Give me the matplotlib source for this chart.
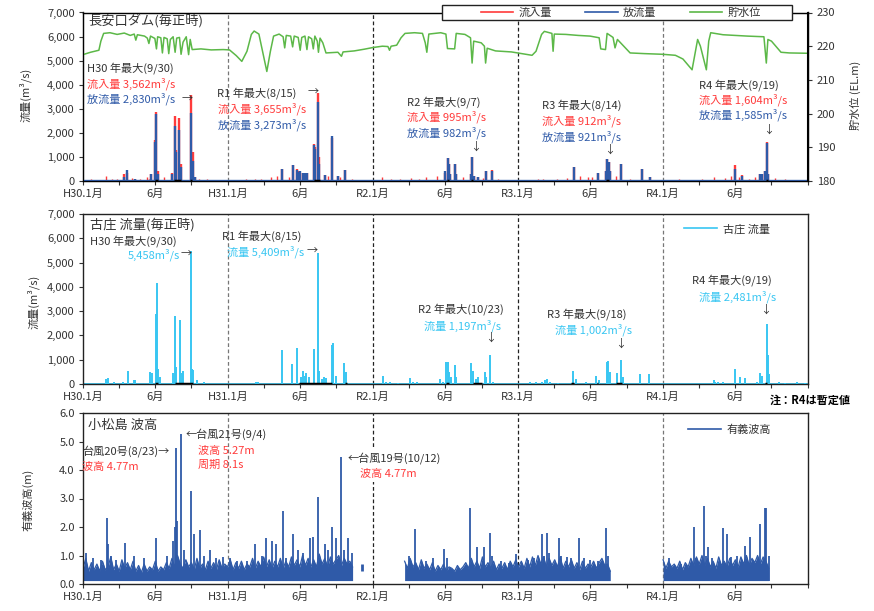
import matplotlib
matplotlib.use('Agg')
import matplotlib.pyplot as plt
from matplotlib.lines import Line2D
from matplotlib.patches import Rectangle
import pandas as pd

plt.rcParams['font.family'] = ['Noto Sans CJK JP', 'DejaVu Sans']

# ---------------- data ----------------
X_START = '2018-01-01'
X_END = '2023-01-01'
YEAR_LINES = ['2019-01-01', '2020-01-01', '2021-01-01', '2022-01-01']
XTICK_DATES = ['2018-01-01', '2018-07-01', '2019-01-01', '2019-07-01', '2020-01-01',
               '2020-07-01', '2021-01-01', '2021-07-01', '2022-01-01', '2022-07-01']
XTICK_LABELS = ['H30.1月', '6月', 'H31.1月', '6月', 'R2.1月', '6月', 'R3.1月', '6月', 'R4.1月', '6月']
XMINOR_DATES = ['2018-04-01', '2018-10-01', '2019-04-01', '2019-10-01', '2020-04-01', '2020-10-01',
                '2021-04-01', '2021-10-01', '2022-04-01', '2022-10-01', '2023-01-01']

# 長安口ダム 貯水位 (EL.m)
LEVEL_DATES = ['2018-01-01', '2018-01-20', '2018-02-10', '2018-02-15', '2018-02-22', '2018-03-10',
               '2018-03-28', '2018-04-15', '2018-04-30', '2018-05-10', '2018-05-14', '2018-05-18',
               '2018-06-05', '2018-06-12', '2018-06-16', '2018-06-20', '2018-07-01', '2018-07-05',
               '2018-07-08', '2018-07-16', '2018-07-20', '2018-07-24', '2018-08-01', '2018-08-05',
               '2018-08-09', '2018-08-16', '2018-08-21', '2018-08-25', '2018-09-01', '2018-09-05',
               '2018-09-10', '2018-09-18', '2018-09-24', '2018-09-28', '2018-10-03', '2018-10-25',
               '2018-11-20', '2018-12-20', '2019-01-05', '2019-01-22', '2019-02-05', '2019-02-18',
               '2019-03-01', '2019-03-08', '2019-03-20', '2019-03-30', '2019-04-09', '2019-04-18',
               '2019-04-26', '2019-05-10', '2019-05-20', '2019-05-24', '2019-05-28', '2019-06-08',
               '2019-06-13', '2019-06-17', '2019-06-27', '2019-07-02', '2019-07-06', '2019-07-14',
               '2019-07-19', '2019-07-23', '2019-07-31', '2019-08-04', '2019-08-08', '2019-08-14',
               '2019-08-17', '2019-08-21', '2019-08-28', '2019-09-05', '2019-09-20', '2019-10-05',
               '2019-10-14', '2019-10-18', '2019-11-15', '2019-12-10', '2020-01-01', '2020-01-25',
               '2020-02-08', '2020-02-12', '2020-02-16', '2020-03-01', '2020-03-12', '2020-03-22',
               '2020-04-15', '2020-05-05', '2020-05-12', '2020-05-16', '2020-05-21', '2020-06-20',
               '2020-07-03', '2020-07-07', '2020-07-25', '2020-07-29', '2020-08-20', '2020-09-03',
               '2020-09-07', '2020-09-11', '2020-09-30', '2020-10-08', '2020-10-11', '2020-10-15',
               '2020-11-05', '2020-12-15', '2021-01-10', '2021-02-05', '2021-02-15', '2021-03-01',
               '2021-03-08', '2021-03-27', '2021-03-30', '2021-04-02', '2021-05-01', '2021-06-01',
               '2021-07-01', '2021-07-24', '2021-07-28', '2021-08-09', '2021-08-13', '2021-08-28',
               '2021-09-02', '2021-09-08', '2021-09-20', '2021-10-10', '2021-11-15', '2021-12-31',
               '2022-02-01', '2022-02-20', '2022-03-15', '2022-03-29', '2022-04-05', '2022-04-20',
               '2022-04-26', '2022-05-01', '2022-06-01', '2022-07-01', '2022-08-01', '2022-09-12',
               '2022-09-18', '2022-09-22', '2022-10-01', '2022-10-25', '2022-11-15', '2022-12-31']
LEVEL_VALUES = [217.5, 218.2, 218.8, 221.5, 223.8, 224.0,
                223.5, 223.9, 223.2, 223.6, 221.8, 223.4,
                223.0, 222.4, 220.8, 223.0, 222.3, 219.2,
                222.8, 222.5, 218.0, 222.6, 222.2, 217.8,
                222.0, 222.8, 218.2, 222.4, 222.6, 217.6,
                221.2, 222.8, 217.5, 222.0, 219.0, 219.2,
                218.9, 219.0, 218.9, 217.2, 215.5, 218.5,
                223.5, 224.5, 223.6, 218.0, 212.5, 218.5,
                223.0, 223.6, 222.8, 219.5, 223.2, 223.0,
                219.8, 223.0, 222.6, 218.8, 222.6, 223.0,
                219.0, 222.8, 222.2, 219.2, 223.0, 221.5,
                218.2, 222.4, 221.0, 218.0, 218.1, 218.2,
                217.0, 218.3, 218.6, 219.1, 219.6, 220.0,
                219.9, 218.8, 220.0, 220.3, 222.5, 223.8,
                224.0, 223.8, 221.0, 218.2, 223.6, 224.0,
                223.6, 219.3, 219.2, 223.8, 223.5, 222.5,
                215.0, 221.5, 221.0, 220.0, 215.0, 219.4,
                218.6, 218.3, 217.8, 217.3, 218.5, 223.5,
                224.4, 223.8, 218.5, 223.6, 223.5, 223.2,
                223.0, 222.5, 219.2, 219.0, 223.8, 222.6,
                219.5, 222.0, 220.5, 218.0, 217.8, 217.6,
                217.3, 216.2, 213.0, 222.0, 220.0, 213.0,
                221.5, 224.0, 223.4, 223.2, 223.0, 222.8,
                215.0, 222.0, 221.5, 218.2, 218.0, 217.9]

# 長安口ダム 流入量 / 放流量 (m3/s) peaks
DAM_DATES = ['2018-04-15', '2018-04-23', '2018-05-13', '2018-06-21', '2018-07-01', '2018-07-05',
             '2018-07-09', '2018-08-14', '2018-08-20', '2018-08-23', '2018-09-01', '2018-09-03',
             '2018-09-05', '2018-09-30', '2018-10-05', '2018-10-10', '2019-05-18', '2019-06-15',
             '2019-06-25', '2019-06-28', '2019-07-01', '2019-07-10', '2019-07-14', '2019-07-20',
             '2019-08-06', '2019-08-09', '2019-08-15', '2019-08-18', '2019-09-02', '2019-09-21',
             '2019-10-04', '2019-10-24', '2020-06-30', '2020-07-08', '2020-07-11', '2020-07-14',
             '2020-07-25', '2020-07-28', '2020-09-05', '2020-09-07', '2020-09-12', '2020-09-23',
             '2020-10-12', '2020-10-26', '2021-05-22', '2021-07-20', '2021-08-10', '2021-08-14',
             '2021-08-17', '2021-08-20', '2021-09-16', '2021-11-10', '2021-11-30', '2022-07-01',
             '2022-07-18', '2022-09-03', '2022-09-06', '2022-09-15', '2022-09-19', '2022-09-22']
INFLOW = [300, 350, 100, 300, 1700, 2850,
          400, 350, 2700, 1300, 2600, 600,
          700, 3562, 1200, 150, 500, 650,
          500, 400, 350, 350, 350, 350,
          1550, 1400, 3655, 1000, 250, 1800,
          200, 450, 350, 950, 700, 300,
          700, 300, 300, 995, 200, 150,
          400, 450, 600, 350, 400, 912,
          800, 400, 700, 500, 150, 650,
          250, 300, 300, 400, 1604, 300]
OUTFLOW = [150, 450, 80, 300, 1600, 2780,
           300, 300, 2300, 1200, 2100, 400,
           600, 2830, 850, 150, 500, 680,
           450, 380, 400, 350, 350, 350,
           1500, 1350, 3273, 700, 250, 1850,
           200, 450, 400, 950, 700, 300,
           700, 300, 300, 982, 200, 150,
           400, 400, 600, 350, 400, 921,
           800, 400, 700, 500, 150, 480,
           200, 300, 300, 400, 1585, 300]
INFLOW_SMALL_DATES = ['2018-01-20', '2018-02-05', '2018-02-28', '2018-03-15', '2018-03-28', '2018-05-05',
                      '2018-05-25', '2018-06-10', '2018-06-15', '2018-07-25', '2018-10-20', '2018-11-10',
                      '2018-12-05', '2019-01-10', '2019-02-15', '2019-03-10', '2019-03-25', '2019-04-20',
                      '2019-05-05', '2019-06-05', '2019-09-10', '2019-10-10', '2019-11-10', '2019-12-10',
                      '2020-01-25', '2020-02-15', '2020-03-10', '2020-04-05', '2020-04-25', '2020-05-15',
                      '2020-06-10', '2020-08-15', '2020-10-05', '2020-11-10', '2020-12-05', '2021-01-20',
                      '2021-02-20', '2021-03-05', '2021-04-10', '2021-05-05', '2021-06-05', '2021-06-25',
                      '2021-07-05', '2021-09-05', '2021-10-10', '2021-12-10', '2022-01-20', '2022-02-10',
                      '2022-03-10', '2022-04-10', '2022-05-10', '2022-06-05', '2022-06-20', '2022-07-10',
                      '2022-08-05', '2022-08-20', '2022-10-10', '2022-11-05', '2022-12-01']
INFLOW_SMALL = [80, 60, 200, 100, 80, 120,
                90, 150, 100, 150, 100, 80,
                60, 60, 70, 100, 80, 150,
                200, 150, 200, 150, 80, 60,
                150, 80, 100, 120, 100, 150,
                200, 150, 120, 80, 60, 60,
                80, 100, 100, 120, 200, 150,
                150, 200, 100, 60, 60, 80,
                60, 100, 150, 120, 200, 150,
                100, 150, 120, 80, 60]
DAM_BASE = 20

# 古庄 流量 (m3/s) peaks
FURU_DATES = ['2018-02-27', '2018-03-06', '2018-03-20', '2018-04-13', '2018-04-24', '2018-05-09',
              '2018-05-13', '2018-06-20', '2018-06-24', '2018-07-03', '2018-07-06', '2018-07-10',
              '2018-07-14', '2018-08-16', '2018-08-20', '2018-08-23', '2018-09-03', '2018-09-07',
              '2018-09-09', '2018-09-30', '2018-10-03', '2018-10-06', '2018-10-15', '2018-11-01',
              '2019-03-13', '2019-03-17', '2019-05-18', '2019-06-12', '2019-06-25', '2019-07-03',
              '2019-07-10', '2019-07-14', '2019-07-17', '2019-07-23', '2019-08-05', '2019-08-15',
              '2019-08-19', '2019-08-25', '2019-09-01', '2019-09-05', '2019-09-19', '2019-09-23',
              '2019-10-01', '2019-10-20', '2019-10-26', '2020-01-26', '2020-02-03', '2020-02-12',
              '2020-03-05', '2020-04-03', '2020-04-11', '2020-04-20', '2020-06-18', '2020-06-26',
              '2020-07-04', '2020-07-08', '2020-07-12', '2020-07-16', '2020-07-25', '2020-07-29',
              '2020-09-05', '2020-09-09', '2020-09-16', '2020-09-23', '2020-10-09', '2020-10-13',
              '2020-10-23', '2020-10-30', '2021-01-30', '2021-02-15', '2021-03-03', '2021-03-10',
              '2021-03-14', '2021-03-22', '2021-04-12', '2021-05-18', '2021-05-26', '2021-06-20',
              '2021-07-16', '2021-07-24', '2021-08-12', '2021-08-16', '2021-08-20', '2021-09-08',
              '2021-09-18', '2021-09-23', '2021-11-04', '2021-11-27', '2022-05-08', '2022-05-12',
              '2022-05-20', '2022-06-01', '2022-07-01', '2022-07-14', '2022-07-27', '2022-08-25',
              '2022-09-03', '2022-09-07', '2022-09-19', '2022-09-21', '2022-09-26', '2022-10-20',
              '2022-11-05', '2022-12-05', '2022-12-25']
FURU_FLOW = [200, 250, 100, 100, 550, 150,
             150, 500, 450, 2900, 4150, 600,
             300, 450, 2800, 700, 2650, 450,
             550, 5458, 600, 580, 150, 80,
             100, 80, 1420, 820, 1480, 300,
             550, 350, 450, 300, 1430, 5409,
             550, 200, 300, 250, 1600, 1700,
             350, 850, 500, 350, 100, 80,
             60, 250, 100, 80, 200, 100,
             900, 900, 500, 300, 800, 300,
             850, 550, 200, 300, 500, 300,
             1197, 100, 80, 100, 80, 150,
             200, 100, 50, 550, 200, 100,
             350, 150, 900, 950, 500, 450,
             1002, 300, 400, 400, 150, 100,
             80, 80, 600, 300, 250, 100,
             450, 350, 2481, 1200, 400, 80,
             60, 80, 50]
FURU_BASE = 15

# black marks at 0 (both flow panels)
DAM_BLACK_START = ['2018-07-01', '2018-08-19', '2018-09-28', '2019-08-05', '2020-07-06', '2020-09-05',
                   '2021-08-11', '2022-09-17']
DAM_BLACK_END = ['2018-07-08', '2018-09-06', '2018-10-03', '2019-08-20', '2020-07-10', '2020-09-09',
                 '2021-08-18', '2022-09-21']
FURU_BLACK_START = ['2018-07-01', '2018-08-20', '2019-06-30', '2019-10-24', '2020-07-04', '2020-09-10',
                    '2021-05-15', '2021-07-18', '2021-09-05', '2022-09-14']
FURU_BLACK_END = ['2018-07-08', '2018-10-05', '2019-09-20', '2019-10-28', '2020-07-12', '2020-10-01',
                  '2021-05-22', '2021-07-22', '2021-09-20', '2022-09-20']

# 小松島 有義波高 (m): weekly band tops per segment
WAVE_SEG_STARTS = ['2018-01-01', '2020-03-21', '2022-01-01']
WAVE_SEG1 = [0.55, 0.9, 0.45, 0.75, 0.5, 0.7, 0.45, 0.8, 0.5, 0.6, 0.95, 0.5, 0.7,
             0.45, 0.85, 0.55, 0.75, 0.5, 0.8, 0.45, 0.65, 0.4, 0.7, 0.45, 0.6, 0.5,
             0.8, 0.45, 0.6, 0.5, 0.75, 0.55, 0.9, 0.6, 1.0, 0.7, 0.55, 0.85, 0.6,
             0.75, 0.5, 0.9, 0.55, 0.7, 0.5, 0.8, 0.55, 0.75, 0.5, 0.85, 0.55, 0.7,
             0.6, 0.85, 0.5, 0.75, 0.55, 0.8, 0.5, 0.7, 0.6, 0.9, 0.55, 0.8, 0.6,
             0.95, 0.6, 0.85, 0.55, 0.8, 0.6, 0.9, 0.55, 0.8, 0.6, 0.95, 0.65, 0.85,
             0.6, 1.0, 0.65, 0.9, 0.6, 0.85, 0.6, 1.05, 0.7, 0.9, 0.6, 0.95, 0.7,
             0.85, 1.0, 0.65, 0.9, 0.7, 0.8, 0.6]
WAVE_SEG2 = [0.8, 0.55, 0.9, 0.6, 0.75, 0.5, 0.85, 0.55, 0.7, 0.5, 0.75, 0.45, 0.65,
             0.5, 0.7, 0.45, 0.6, 0.55, 0.45, 0.65, 0.5, 0.6, 0.75, 0.55, 0.9, 0.6,
             0.8, 0.55, 0.95, 0.6, 0.75, 0.55, 0.8, 0.5, 0.7, 0.55, 0.75, 0.5, 0.8,
             0.6, 0.85, 0.6, 0.8, 0.55, 0.9, 0.6, 0.95, 0.65, 1.0, 0.7, 0.95, 0.6,
             0.9, 0.65, 0.85, 0.6, 0.95, 0.55, 0.8, 0.6, 0.85, 0.55, 0.75, 0.5, 0.8,
             0.55, 0.7, 0.6, 0.8, 0.55, 0.75, 0.9, 0.65, 0.7, 0.45]
WAVE_SEG3 = [0.85, 0.55, 0.8, 0.6, 0.7, 0.55, 0.8, 0.5, 0.75, 0.6, 0.9, 0.65, 0.95,
             0.7, 1.0, 0.65, 0.9, 0.6, 0.8, 0.55, 0.95, 0.65, 0.8, 0.6, 0.9, 0.65,
             0.85, 0.6, 0.95, 0.7, 1.0, 0.65, 0.9, 0.75, 1.0, 0.7, 0.95, 0.8, 0.55]
WAVE_FLOOR = 0.12
WAVE_BLIP_DATE = ['2019-12-05']
WAVE_BLIP_LOW = [0.45]
WAVE_BLIP_HIGH = [0.7]
WAVE_SPIKE_DATES = ['2018-01-09', '2018-01-26', '2018-02-16', '2018-03-03', '2018-03-06', '2018-03-12',
                    '2018-03-25', '2018-04-17', '2018-05-10', '2018-06-04', '2018-07-05', '2018-08-01',
                    '2018-08-15', '2018-08-20', '2018-08-23', '2018-08-27', '2018-09-04', '2018-09-12',
                    '2018-09-30', '2018-10-08', '2018-10-23', '2018-11-01', '2018-11-18', '2018-12-01',
                    '2018-12-20', '2019-01-07', '2019-01-25', '2019-02-17', '2019-03-10', '2019-03-27',
                    '2019-04-08', '2019-04-23', '2019-05-01', '2019-05-19', '2019-05-28', '2019-06-15',
                    '2019-06-27', '2019-07-10', '2019-07-26', '2019-08-04', '2019-08-15', '2019-09-02',
                    '2019-09-10', '2019-09-21', '2019-10-01', '2019-10-12', '2019-10-20', '2019-10-30',
                    '2019-11-10', '2020-04-02', '2020-04-17', '2020-05-13', '2020-06-01', '2020-06-28',
                    '2020-07-06', '2020-09-01', '2020-09-19', '2020-10-06', '2020-10-21', '2020-10-28',
                    '2020-11-20', '2020-12-10', '2020-12-27', '2021-01-26', '2021-02-10', '2021-03-01',
                    '2021-03-06', '2021-03-14', '2021-03-20', '2021-04-14', '2021-04-20', '2021-05-05',
                    '2021-05-15', '2021-06-04', '2021-06-15', '2021-07-01', '2021-07-20', '2021-08-11',
                    '2021-08-16', '2022-01-15', '2022-02-15', '2022-03-19', '2022-03-25', '2022-04-14',
                    '2022-04-19', '2022-04-25', '2022-05-05', '2022-06-02', '2022-06-12', '2022-06-20',
                    '2022-07-05', '2022-07-27', '2022-08-09', '2022-09-03', '2022-09-14', '2022-09-18',
                    '2022-09-24']
WAVE_SPIKES = [1.1, 0.9, 0.85, 2.3, 1.4, 1.0,
               0.85, 1.45, 1.0, 0.9, 1.6, 1.0,
               1.5, 2.0, 4.77, 2.2, 5.27, 1.2,
               3.25, 1.75, 1.9, 1.0, 1.2, 0.9,
               0.95, 0.9, 0.8, 0.8, 1.4, 1.0,
               1.6, 1.5, 1.4, 2.55, 0.9, 1.75,
               1.2, 1.1, 1.6, 1.65, 3.05, 1.4,
               1.2, 2.0, 1.6, 4.45, 1.2, 1.6,
               1.1, 1.0, 1.94, 0.8, 0.9, 1.22,
               0.9, 2.65, 1.3, 1.3, 1.8, 1.0,
               0.8, 0.75, 1.06, 0.85, 0.9, 1.75,
               1.0, 1.8, 1.1, 1.6, 1.0, 0.95,
               0.9, 1.6, 0.9, 0.85, 0.8, 1.98,
               1.0, 0.9, 0.7, 2.0, 0.9, 2.75,
               1.0, 1.3, 0.9, 1.97, 1.75, 0.95,
               1.0, 1.35, 1.65, 2.1, 2.65, 2.68,
               1.0]

# ---------------- style ----------------
RED = '#ff3b3b'
BLUE = '#2f5aa8'
GREEN = '#5cb848'
LBLUE = '#38c6f2'
TXT = '#333333'
W, H = 874, 611

fig = plt.figure(figsize=(W / 100, H / 100), dpi=100)


def ax_rect(top, bottom, left=83, right=808):
    return [left / W, 1 - bottom / H, (right - left) / W, (bottom - top) / H]


ax1 = fig.add_axes(ax_rect(12.5, 181))
ax2 = fig.add_axes(ax_rect(214, 384))
ax3 = fig.add_axes(ax_rect(413, 584))


def D(lst):
    return pd.to_datetime(lst)


for ax in (ax1, ax2, ax3):
    ax.set_xlim(pd.Timestamp(X_START), pd.Timestamp(X_END))
    ax.set_xticks(D(XTICK_DATES))
    ax.set_xticklabels(XTICK_LABELS)
    ax.set_xticks(D(XMINOR_DATES), minor=True)
    ax.tick_params(axis='both', which='both', direction='out', length=3, width=0.8,
                   labelsize=8, colors=TXT, pad=3)
    for s in ax.spines.values():
        s.set_color('#222222')
        s.set_linewidth(1.0)
    for i, d in enumerate(YEAR_LINES):
        col = '#777777' if i in (0, 3) else '#222222'
        ax.axvline(pd.Timestamp(d), color=col, lw=0.9, ls=(0, (3, 2)), zorder=1)

# ---- top panel ----
ax1.set_ylim(0, 7000)
ax1.set_yticks(range(0, 7001, 1000))
ax1.set_yticklabels([f'{v:,}' for v in range(0, 7001, 1000)])
ax1.vlines(D(INFLOW_SMALL_DATES), 0, INFLOW_SMALL, color=RED, lw=1.0, zorder=2)
ax1.vlines(D(DAM_DATES), 0, INFLOW, color=RED, lw=1.7, zorder=2)
ax1.plot(D([X_START, X_END]), [DAM_BASE, DAM_BASE], color=BLUE, lw=2.4, zorder=3)
ax1.vlines(D(DAM_DATES), 0, OUTFLOW, color=BLUE, lw=1.7, zorder=3)
ax1.hlines([0] * len(DAM_BLACK_START), D(DAM_BLACK_START), D(DAM_BLACK_END), color='black', lw=2.5, zorder=4)

ax1r = ax1.twinx()
ax1r.set_ylim(180, 230)
ax1r.set_yticks(range(180, 231, 10))
ax1r.tick_params(axis='y', direction='out', length=3, labelsize=8, colors=TXT)
ax1r.spines['right'].set_linewidth(1.5)
ax1r.spines['right'].set_color('black')
ax1r.plot(D(LEVEL_DATES), LEVEL_VALUES, color=GREEN, lw=1.1)

# ---- middle panel ----
ax2.set_ylim(0, 7000)
ax2.set_yticks(range(0, 7001, 1000))
ax2.set_yticklabels([f'{v:,}' for v in range(0, 7001, 1000)])
ax2.plot(D([X_START, X_END]), [FURU_BASE, FURU_BASE], color=LBLUE, lw=2.0, zorder=2)
ax2.vlines(D(FURU_DATES), 0, FURU_FLOW, color=LBLUE, lw=1.4, zorder=3)
ax2.hlines([0] * len(FURU_BLACK_START), D(FURU_BLACK_START), D(FURU_BLACK_END), color='black', lw=2.5, zorder=4)

# ---- bottom panel ----
ax3.set_ylim(0, 6.0)
ax3.set_yticks([0, 1, 2, 3, 4, 5, 6])
ax3.set_yticklabels([f'{v:.1f}' for v in range(7)])
for start, seg in zip(WAVE_SEG_STARTS, [WAVE_SEG1, WAVE_SEG2, WAVE_SEG3]):
    dts = pd.date_range(start, periods=len(seg), freq='7D')
    ax3.fill_between(dts, WAVE_FLOOR, seg, color=BLUE, lw=0, zorder=2)
    ax3.plot(dts, seg, color=BLUE, lw=0.9, zorder=2)
ax3.vlines(D(WAVE_BLIP_DATE), WAVE_BLIP_LOW, WAVE_BLIP_HIGH, color=BLUE, lw=2.0, zorder=2)
ax3.vlines(D(WAVE_SPIKE_DATES), WAVE_FLOOR, WAVE_SPIKES, color=BLUE, lw=1.3, zorder=3)

# ---- legends ----
fig.add_artist(Rectangle((442 / W, 1 - 20 / H), 350 / W, 15 / H, transform=fig.transFigure,
                         facecolor='white', edgecolor='#222222', lw=1.0, zorder=4))
leg1 = fig.legend(handles=[Line2D([], [], color=RED, lw=1.2), Line2D([], [], color=BLUE, lw=1.2),
                           Line2D([], [], color=GREEN, lw=1.2)],
                  labels=['流入量', '放流量', '貯水位'], ncol=3, loc='center',
                  bbox_to_anchor=(621 / W, 1 - 12.5 / H), frameon=False,
                  fontsize=8, handlelength=2.9, handletextpad=0.5,
                  columnspacing=3.0, borderpad=0.1, borderaxespad=0)
leg1.set_zorder(5)
for t in leg1.get_texts():
    t.set_color(TXT)

leg2 = fig.legend(handles=[Line2D([], [], color=LBLUE, lw=1.2)], labels=['古庄 流量'],
                  loc='center left', bbox_to_anchor=(684 / W, 1 - 229 / H), frameon=False,
                  fontsize=8, handlelength=3.0, handletextpad=0.5, borderpad=0, borderaxespad=0)
leg3 = fig.legend(handles=[Line2D([], [], color=BLUE, lw=1.2)], labels=['有義波高'],
                  loc='center left', bbox_to_anchor=(688 / W, 1 - 430 / H), frameon=False,
                  fontsize=8, handlelength=3.0, handletextpad=0.5, borderpad=0, borderaxespad=0)
for lg in (leg2, leg3):
    for t in lg.get_texts():
        t.set_color(TXT)


# ---- texts ----
def ftxt(x, y, s, color=TXT, size=8, ha='left', **kw):
    fig.text(x / W, 1 - y / H, s, color=color, fontsize=size, ha=ha, va='center', **kw)


# axis labels
ftxt(25, 95, '流量(m³/s)', rotation=90, ha='center')
ftxt(33, 302, '流量(m³/s)', rotation=90, ha='center')
ftxt(28, 500, '有義波高(m)', rotation=90, ha='center')
ftxt(855, 95, '貯水位 (EL.m)', rotation=90, ha='center')

# top panel annotations
ftxt(88, 22, '長安口ダム(毎正時)', size=9.5)
ftxt(87, 68, 'H30 年最大(9/30)')
ftxt(87, 84, '流入量 3,562m³/s', color=RED)
ftxt(87, 99, '放流量 2,830m³/s', color=BLUE)
ftxt(182, 99, '→')
ftxt(217, 93, 'R1 年最大(8/15)')
ftxt(308, 92, '→')
ftxt(218, 109, '流入量 3,655m³/s', color=RED)
ftxt(218, 125, '放流量 3,273m³/s', color=BLUE)
ftxt(407, 102, 'R2 年最大(9/7)')
ftxt(407, 117, '流入量 995m³/s', color=RED)
ftxt(407, 133, '放流量 982m³/s', color=BLUE)
ftxt(476, 147, '↓', ha='center')
ftxt(542, 105, 'R3 年最大(8/14)')
ftxt(542, 121, '流入量 912m³/s', color=RED)
ftxt(542, 137, '放流量 921m³/s', color=BLUE)
ftxt(610, 150, '↓', ha='center')
ftxt(699, 85, 'R4 年最大(9/19)')
ftxt(699, 100, '流入量 1,604m³/s', color=RED)
ftxt(699, 115, '放流量 1,585m³/s', color=BLUE)
ftxt(769, 130, '↓', ha='center')

# middle panel annotations
ftxt(90, 225, '古庄 流量(毎正時)', size=9.5)
ftxt(90, 241, 'H30 年最大(9/30)')
ftxt(128, 255, '5,458m³/s', color=LBLUE)
ftxt(181, 254, '→')
ftxt(222, 236, 'R1 年最大(8/15)')
ftxt(227, 252, '流量 5,409m³/s', color=LBLUE)
ftxt(307, 251, '→')
ftxt(418, 309, 'R2 年最大(10/23)')
ftxt(424, 326, '流量 1,197m³/s', color=LBLUE)
ftxt(491, 338, '↓', ha='center')
ftxt(547, 314, 'R3 年最大(9/18)')
ftxt(555, 330, '流量 1,002m³/s', color=LBLUE)
ftxt(621, 344, '↓', ha='center')
ftxt(692, 280, 'R4 年最大(9/19)')
ftxt(699, 297, '流量 2,481m³/s', color=LBLUE)
ftxt(766, 310, '↓', ha='center')
ftxt(770, 400, '注：R4は暫定値', color='black', fontweight='bold')

# bottom panel annotations
ftxt(88, 425, '小松島 波高', size=9.5)
ftxt(186, 434, '←台風21号(9/4)')
ftxt(82, 451, '台風20号(8/23)→')
ftxt(82, 467, '波高 4.77m', color=RED)
ftxt(198, 451, '波高 5.27m', color=RED)
ftxt(198, 465, '周期 8.1s', color=RED)
ftxt(348, 458, '←台風19号(10/12)',
     bbox=dict(facecolor='white', edgecolor='none', pad=2))
ftxt(360, 474, '波高 4.77m', color=RED,
     bbox=dict(facecolor='white', edgecolor='none', pad=2))

fig.savefig('out.png', dpi=100)
